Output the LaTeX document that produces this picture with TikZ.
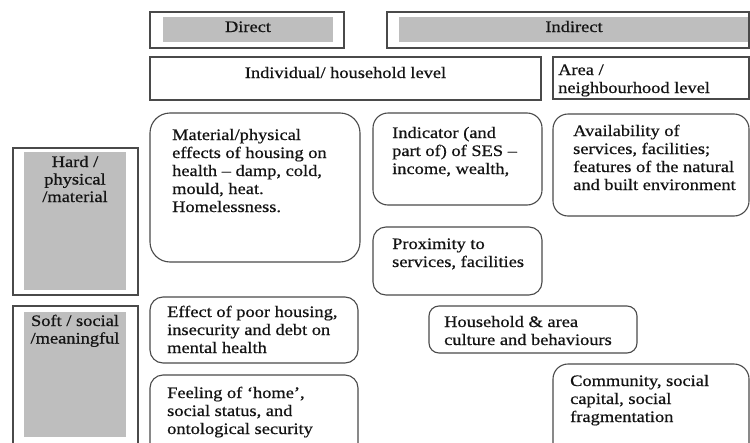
\documentclass[tikz,border=0pt]{standalone}
\usepackage{fontspec}
\setmainfont{Liberation Serif}[FakeStretch=1.15,FakeBold=0.6]
\usetikzlibrary{fit}
\definecolor{boxline}{HTML}{4A4A4A}
\definecolor{grayfill}{HTML}{BEBEBE}
\definecolor{txt}{HTML}{141414}
\tikzset{
  frame/.style={draw=boxline, line width=1.1pt, inner sep=0pt},
  graybar/.style={fill=grayfill, draw=none, inner sep=0pt},
  rbox/.style={draw=boxline, line width=1.1pt, rounded corners=#1, inner sep=0pt},
  rbox/.default=12pt,
  lbl/.style={anchor=base west, inner sep=0pt, align=left, text=txt,
    font=\fontsize{16}{18}\selectfont},
  clbl/.style={anchor=base, inner sep=0pt, align=center, text=txt,
    font=\fontsize{16}{17.5}\selectfont},
}
\begin{document}
\begin{tikzpicture}[x=1pt,y=-1pt]
\useasboundingbox (0,0) rectangle (750,442);
\clip (0,0) rectangle (750,442);
\fill[white] (0,0) rectangle (750,442);
% top headings
\node[frame, fit={(150,12) (344,48)}] (directbox) {};
\node[graybar, fit={(163,17) (333,42)}] (directbar) {};
\node[clbl] (directtxt) at (248,32) {Direct};
\node[frame, fit={(387,12) (749,48)}] (indirectbox) {};
\node[graybar, fit={(399,17) (748,42)}] (indirectbar) {};
\node[clbl] (indirecttxt) at (574,32) {Indirect};
% level row
\node[frame, fit={(150,57) (541,100)}] (indiv) {};
\node[clbl] (indivtxt) at (345.5,78) {Individual/ household level};
\node[frame, fit={(553,57) (749,99)}] (area) {};
\node[lbl] (areatxt) at (558,93) {Area /\\neighbourhood level};
% left column
\node[frame, fit={(13,148) (138,295)}] (hard) {};
\node[graybar, fit={(24,152) (126,290)}] (hardbar) {};
\node[clbl] (hardtxt) at (75,202) {Hard /\\physical\\/material};
\node[frame, fit={(13,306) (138,460)}] (soft) {};
\node[graybar, fit={(24,312) (126,437)}] (softbar) {};
\node[clbl] (softtxt) at (75,343.5) {Soft / social\\/meaningful};
% content boxes
\node[rbox=20pt, fit={(150,113) (360,262)}] (material) {};
\node[lbl] (materialtxt) at (172,212) {Material/physical\\effects of housing on\\health -- damp, cold,\\mould, heat.\\Homelessness.};
\node[rbox=15pt, fit={(373,113) (542,205)}] (indicator) {};
\node[lbl] (indicatortxt) at (392,174) {Indicator (and\\part of) of SES --\\income, wealth,};
\node[rbox=15pt, fit={(553,114) (749,216)}] (avail) {};
\node[lbl] (availtxt) at (573,190) {Availability of\\services, facilities;\\features of the natural\\and built environment};
\node[rbox=13pt, fit={(373,227) (542,295)}] (proximity) {};
\node[lbl] (proximitytxt) at (392,267) {Proximity to\\services, facilities};
\node[rbox=13pt, fit={(150,297) (358,363)}] (effect) {};
\node[lbl] (effecttxt) at (167,353) {Effect of poor housing,\\insecurity and debt on\\mental health};
\node[rbox=10pt, fit={(429,306) (637,353)}] (household) {};
\node[lbl] (householdtxt) at (444,345) {Household \& area\\culture and behaviours};
\node[rbox=13pt, fit={(150,375) (358,460)}] (feeling) {};
\node[lbl] (feelingtxt) at (167,434) {Feeling of ‘home’,\\social status, and\\ontological security};
\node[rbox=15pt, fit={(553,364) (749,460)}] (community) {};
\node[lbl] (communitytxt) at (570,422) {Community, social\\capital, social\\fragmentation};
\end{tikzpicture}
\end{document}
